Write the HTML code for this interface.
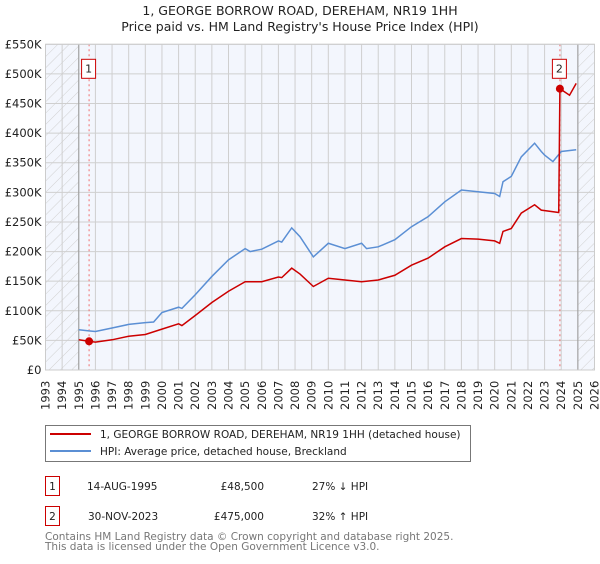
<!DOCTYPE html>
<html><head><meta charset="utf-8">
<style>
body{margin:0;background:#fff;font-family:"DejaVu Sans","Liberation Sans",sans-serif;}
svg text{font-family:"DejaVu Sans","Liberation Sans",sans-serif;}
</style></head>
<body>
<svg width="600" height="560" viewBox="0 0 600 560" xmlns="http://www.w3.org/2000/svg">
<defs>
<pattern id="hatch" patternUnits="userSpaceOnUse" width="8" height="8" patternTransform="rotate(45)">
<line x1="0" y1="0" x2="0" y2="8" stroke="#d0d0d0" stroke-width="1"/>
</pattern>
</defs>
<text x="300" y="15" text-anchor="middle" font-size="12.5" fill="#222">1, GEORGE BORROW ROAD, DEREHAM, NR19 1HH</text>
<text x="300" y="31" text-anchor="middle" font-size="12.5" fill="#222">Price paid vs. HM Land Registry's House Price Index (HPI)</text>
<g id="plot"></g>
<g>
<rect x="45.5" y="425.5" width="425" height="36" fill="#fff" stroke="#777"/>
<line x1="50" y1="434" x2="91" y2="434" stroke="#cc0000" stroke-width="2"/>
<text x="100" y="438" font-size="10.5" fill="#222">1, GEORGE BORROW ROAD, DEREHAM, NR19 1HH (detached house)</text>
<line x1="50" y1="451" x2="91" y2="451" stroke="#5b8fd4" stroke-width="2"/>
<text x="100" y="455" font-size="10.5" fill="#222">HPI: Average price, detached house, Breckland</text>
</g>
<g font-size="10.5" fill="#222">
<rect x="45.5" y="476.5" width="14" height="19" fill="#fff" stroke="#cc0000"/>
<text x="52.5" y="490" text-anchor="middle">1</text>
<text x="87" y="490">14-AUG-1995</text>
<text x="264" y="490" text-anchor="end">£48,500</text>
<text x="312" y="490">27% ↓ HPI</text>
<rect x="45.5" y="506.5" width="14" height="19" fill="#fff" stroke="#cc0000"/>
<text x="52.5" y="520" text-anchor="middle">2</text>
<text x="88" y="520">30-NOV-2023</text>
<text x="264" y="520" text-anchor="end">£475,000</text>
<text x="312" y="520">32% ↑ HPI</text>
</g>
<text x="45" y="540" font-size="10.5" fill="#777">Contains HM Land Registry data © Crown copyright and database right 2025.</text>
<text x="45" y="550" font-size="10.5" fill="#777">This data is licensed under the Open Government Licence v3.0.</text>
</svg>
<script>
const hpiYears=[1995.0,1995.6,1996.0,1997.0,1998.0,1999.0,1999.5,2000.0,2001.0,2001.2,2002.0,2003.0,2004.0,2005.0,2005.3,2006.0,2007.0,2007.2,2007.8,2008.3,2009.1,2010.0,2011.0,2012.0,2012.3,2013.0,2014.0,2015.0,2016.0,2017.0,2018.0,2019.0,2020.0,2020.3,2020.5,2021.0,2021.6,2022.4,2022.8,2023.0,2023.5,2024.0,2024.9];
const hpiValues=[68,66,65,71,77,80,81,97,106,104,127,158,186,205,200,204,218,216,240,225,191,214,205,214,205,208,220,242,259,284,304,301,298,293,318,327,360,383,369,363,352,369,372];
const ppYears=[1995.0,1995.6,1996.0,1997.0,1998.0,1999.0,2000.0,2001.0,2001.2,2002.0,2003.0,2004.0,2005.0,2006.0,2007.0,2007.2,2007.8,2008.3,2009.1,2010.0,2011.0,2012.0,2013.0,2014.0,2015.0,2016.0,2017.0,2018.0,2019.0,2020.0,2020.3,2020.5,2021.0,2021.6,2022.4,2022.8,2023.85,2023.92,2024.5,2024.9];
const ppValues=[51,48.5,47,51,57,60,69,78,75,92,114,133,149,149,157,156,172,162,141,155,152,149,152,160,177,189,208,222,221,218,214,234,239,265,279,270,266,475,464,484];
const saleYears=[1995.62,2023.92];
const saleValues=[48.5,475];
const saleLabels=["1","2"];
const yTicks=[0,50,100,150,200,250,300,350,400,450,500,550];
const yTickLabels=["£0","£50K","£100K","£150K","£200K","£250K","£300K","£350K","£400K","£450K","£500K","£550K"];
const xTicks=[1993,1994,1995,1996,1997,1998,1999,2000,2001,2002,2003,2004,2005,2006,2007,2008,2009,2010,2011,2012,2013,2014,2015,2016,2017,2018,2019,2020,2021,2022,2023,2024,2025,2026];

const NS="http://www.w3.org/2000/svg";
const L=45.5,R=594.5,T=44.3,B=370;
const x=y=>L+(y-1993)/(2026-1993)*(R-L);
const yv=v=>B-v/550*(B-T);
const g=document.getElementById('plot');
function mk(tag,attrs,parent){const e=document.createElementNS(NS,tag);for(const k in attrs)e.setAttribute(k,attrs[k]);(parent||g).appendChild(e);return e;}
let e;
e=mk('rect',{x:L,y:T,width:R-L,height:B-T,fill:'#f3f6fd'});


e=mk('rect',{x:L,y:T,width:x(1995)-L,height:B-T,fill:'url(#hatch)'});


e=mk('rect',{x:x(2025),y:T,width:R-x(2025),height:B-T,fill:'url(#hatch)'});


xTicks.forEach(t=>{
  e=mk('line',{x1:x(t),x2:x(t),y1:T,y2:B,stroke:'#cfcfcf','stroke-width':1});
  
  
  e=mk('text',{x:0,y:0,transform:`translate(${x(t)+4},${B+40}) rotate(-90)`,'font-size':11.5,fill:'#222'});
  e.textContent=t;
  
  
});
yTicks.forEach((t,i)=>{
  e=mk('line',{x1:L,x2:R,y1:yv(t),y2:yv(t),stroke:'#cfcfcf','stroke-width':1});
  
  
  e=mk('text',{x:L-4,y:yv(t)+4,'text-anchor':'end','font-size':11.5,fill:'#222'});
  e.textContent=yTickLabels[i];
  
  
});
e=mk('line',{x1:x(1995),x2:x(1995),y1:T,y2:B,stroke:'#999','stroke-width':1});


e=mk('line',{x1:x(2025),x2:x(2025),y1:T,y2:B,stroke:'#999','stroke-width':1});


saleYears.forEach(s=>{
  e=mk('line',{x1:x(s),x2:x(s),y1:T,y2:B,stroke:'#f07070','stroke-width':1,'stroke-dasharray':'2,3'});
  
  
});
e=mk('polyline',{points:hpiYears.map((t,i)=>x(t)+','+yv(hpiValues[i])).join(' '),fill:'none',stroke:'#5b8fd4','stroke-width':1.5});


e=mk('polyline',{points:ppYears.map((t,i)=>x(t)+','+yv(ppValues[i])).join(' '),fill:'none',stroke:'#cc0000','stroke-width':1.5});


saleYears.forEach((s,i)=>{
  e=mk('circle',{cx:x(s),cy:yv(saleValues[i]),r:4,fill:'#cc0000'});
  
  
  e=mk('rect',{x:x(s)-7.5,y:T+15,width:14,height:19,fill:'#fff',stroke:'#cc0000'});
  
  
  e=mk('text',{x:x(s)-0.5,y:T+28,'text-anchor':'middle','font-size':11,fill:'#222'});
  e.textContent=saleLabels[i];
  
  
});
e=mk('rect',{x:L,y:T,width:R-L,height:B-T,fill:'none',stroke:'#ccc'});


</script>
</body></html>
